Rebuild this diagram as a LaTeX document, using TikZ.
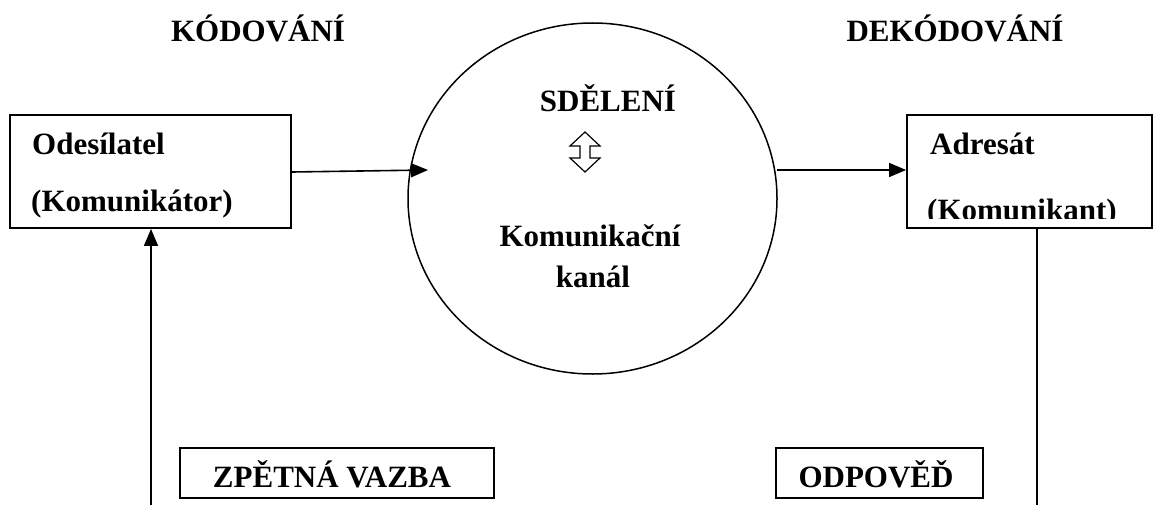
\documentclass[tikz,border=0pt]{standalone}
\usepackage{fontspec}
\setmainfont{Liberation Serif}
\usetikzlibrary{shapes.geometric,arrows.meta}
\begin{document}
\begin{tikzpicture}[x=1pt,y=-1pt,
  lbl/.style={font=\fontsize{31}{36}\selectfont\bfseries, inner sep=0pt, anchor=base},
  lblw/.style={lbl, anchor=base west},
  box/.style={draw, line width=1.8pt, inner sep=0pt},
  arr/.style={line width=1.6pt, -{Triangle[length=17pt,width=14pt]}},
  plain/.style={line width=1.8pt}]
\useasboundingbox (0,0) rectangle (1155,505);
% headings
\node[lbl] (kod) at (258,42) {KÓDOVÁNÍ};
\node[lbl] (dekod) at (955,42) {DEKÓDOVÁNÍ};
% sender box
\node[box, minimum width=281pt, minimum height=113pt] (send) at (150.5,171.5) {};
\node[lblw] (send1) at (32,155) {Odesílatel};
\node[lblw] (send2) at (31,211) {(Komunikátor)};
% receiver box
\node[box, minimum width=245pt, minimum height=113pt] (recv) at (1029.5,171.5) {};
\node[lblw] (recv1) at (930,155) {Adresát};
\begin{scope}
  \clip (905,190) rectangle (1150,218);
  \node[lblw] (recv2) at (927,220) {(Komunikant)};
\end{scope}
% channel
\node[draw, ellipse, line width=1.5pt, minimum width=369pt, minimum height=351pt, inner sep=0pt] (chan) at (592.5,198.5) {};
\node[lbl] (msg) at (608,112) {SDĚLENÍ};
\draw[line width=1.2pt, line join=miter]
  (585,132) -- (600,146) -- (590,146) -- (590,158) -- (600,158) -- (585,172)
  -- (570,158) -- (580,158) -- (580,146) -- (570,146) -- cycle;
\node[lbl] (ch1) at (590,246) {Komunikační};
\node[lbl] (ch2) at (593,287) {kanál};
% bottom labels
\node[box, minimum width=314pt, minimum height=50pt] (fb) at (337,473) {};
\node[lbl] (fbt) at (332,487) {ZPĚTNÁ VAZBA};
\node[box, minimum width=207pt, minimum height=50pt] (ans) at (879.5,473) {};
\node[lbl] (anst) at (876,487) {ODPOVĚĎ};
% connectors
\coordinate (chin) at (428,170);
\coordinate (chout) at (777,170);
\coordinate (fbfoot) at (151,506);
\coordinate (ansfoot) at (1037,506);
\draw[arr] (send.east |- 0,172) -- (chin);
\draw[arr] (chout) -- (recv.west |- chout);
\draw[arr] (fbfoot) -- (fbfoot |- send.south);
\draw[plain] (ansfoot |- recv.south) -- (ansfoot);
\end{tikzpicture}
\end{document}
